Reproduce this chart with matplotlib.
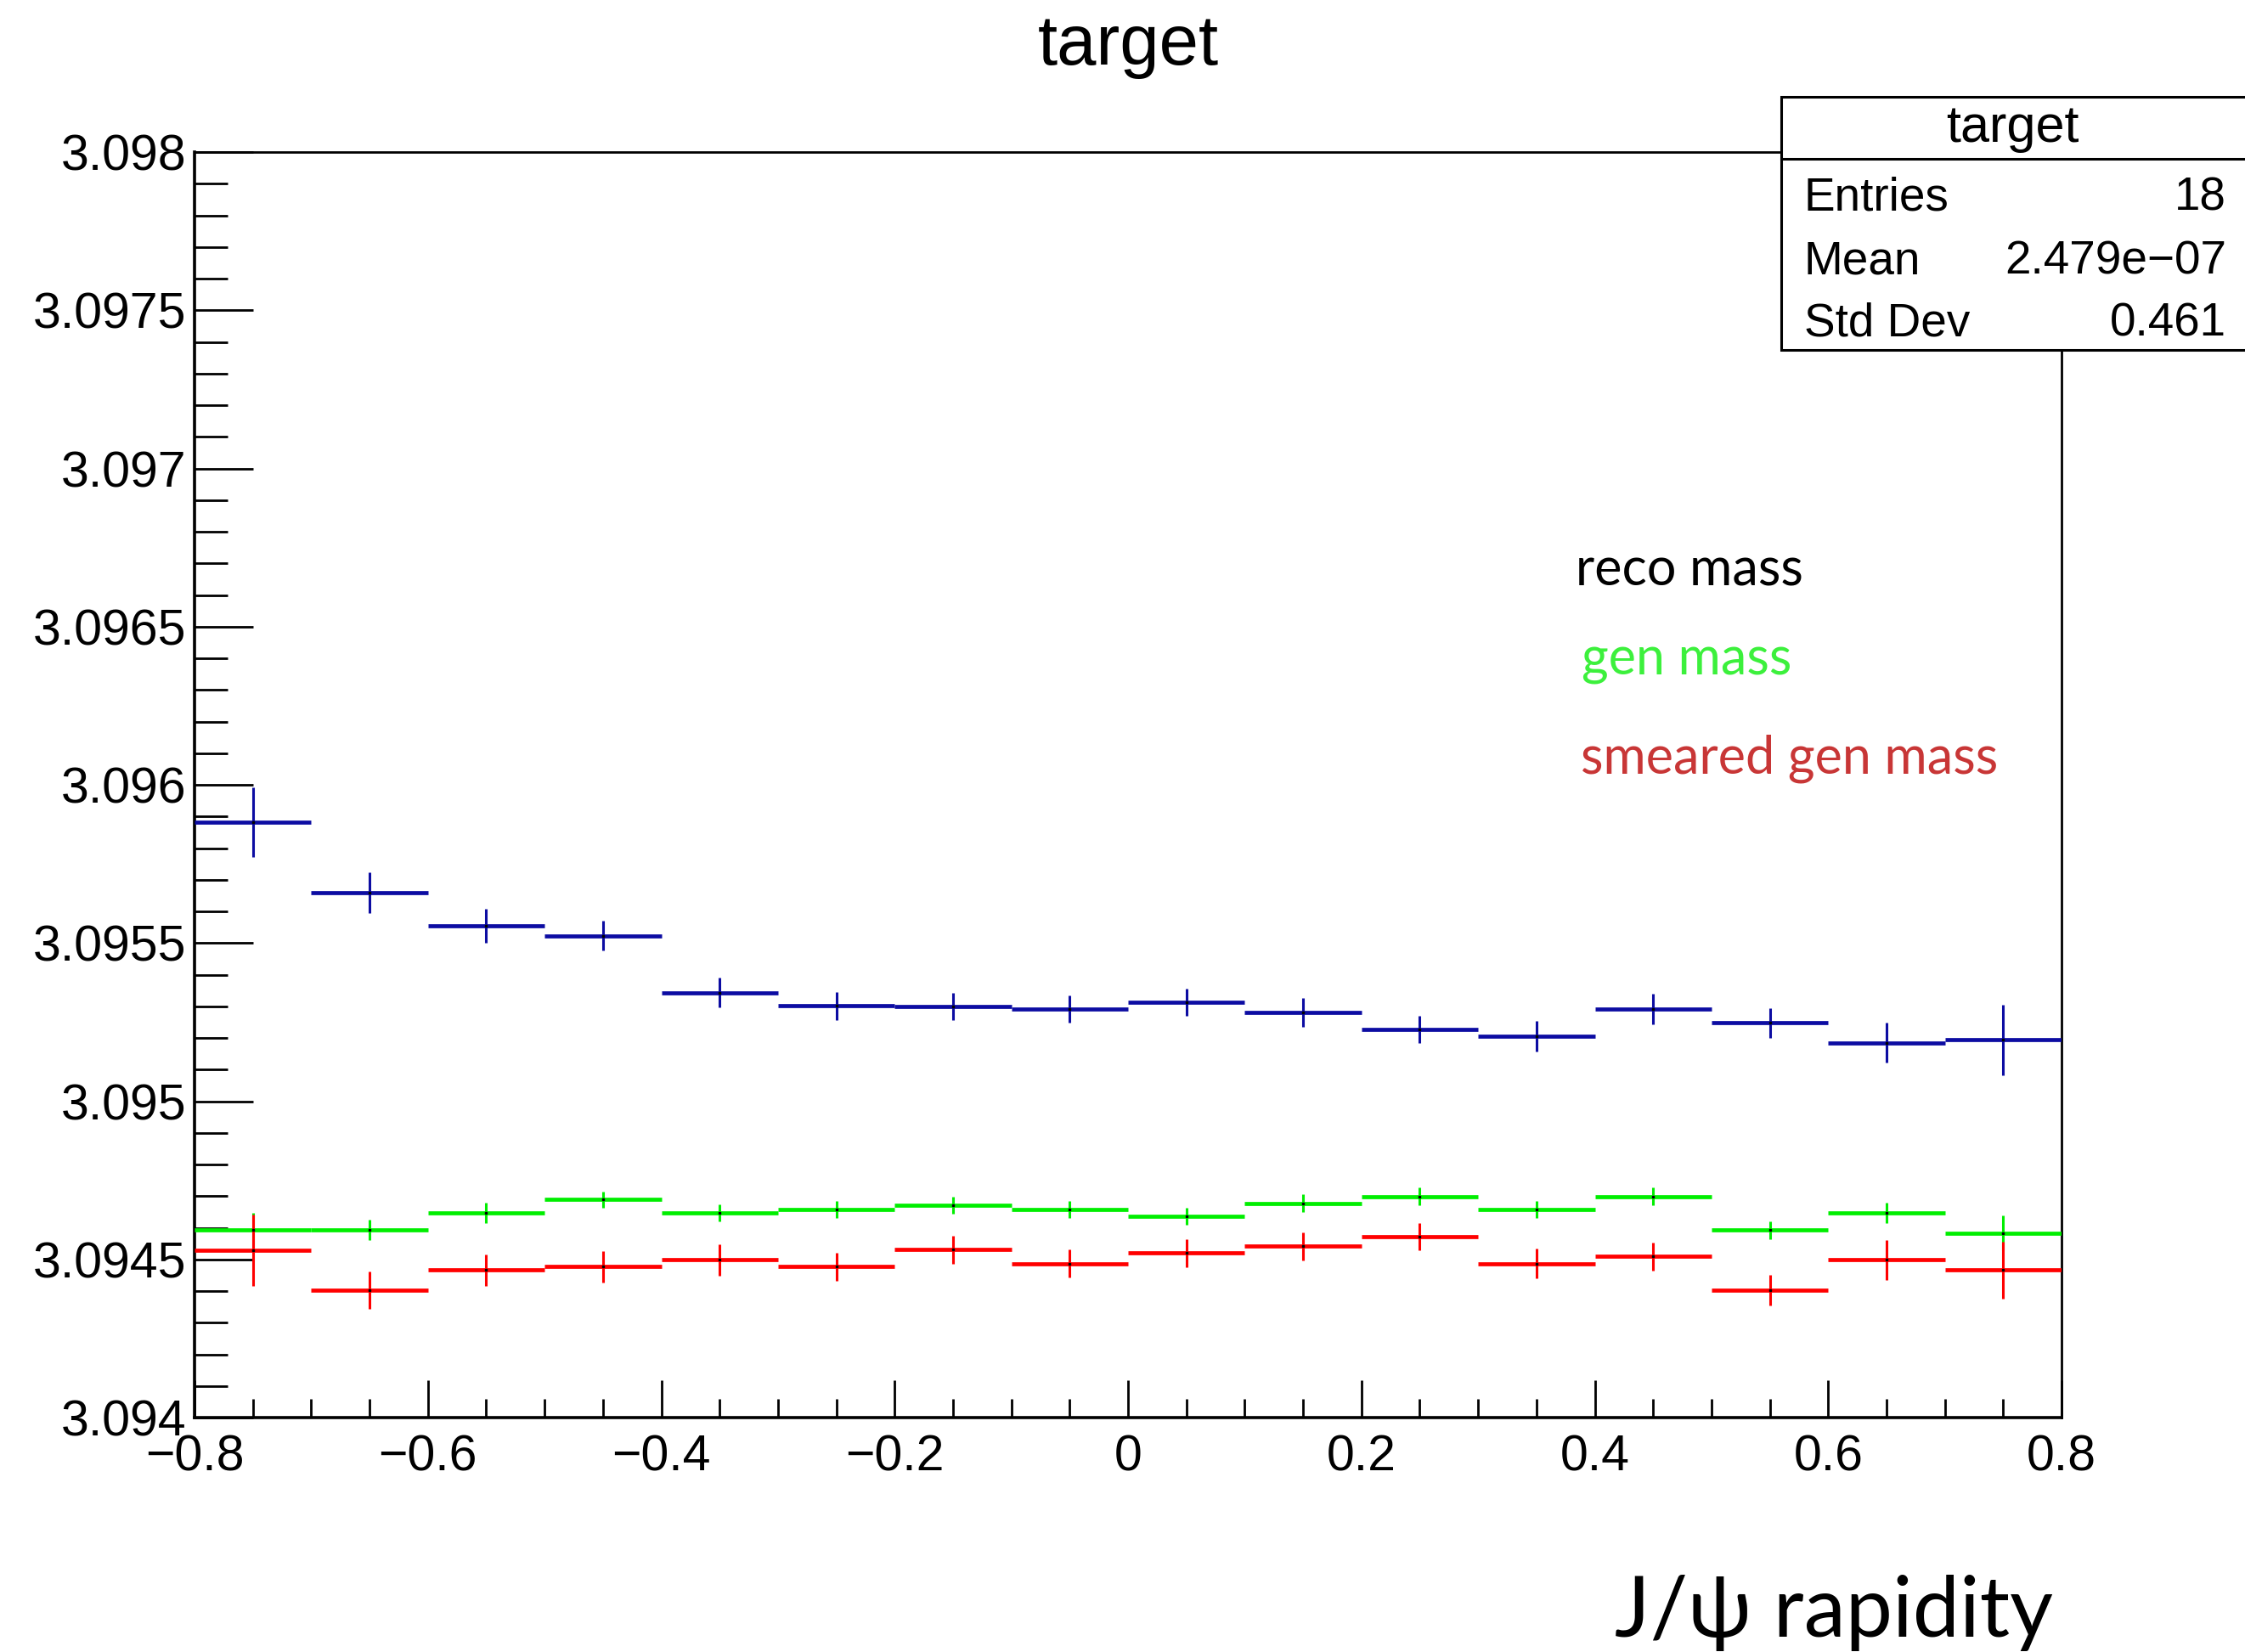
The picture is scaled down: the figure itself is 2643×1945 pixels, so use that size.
import matplotlib
matplotlib.use("Agg")
import matplotlib.pyplot as plt
from matplotlib.patches import Rectangle
from matplotlib.lines import Line2D
from matplotlib.ticker import MultipleLocator, FuncFormatter
import numpy as np

# Rapidity bins (width 0.1) from -0.8 to 0.8
bin_centers = [-0.75, -0.65, -0.55, -0.45, -0.35, -0.25, -0.15, -0.05,
               0.05, 0.15, 0.25, 0.35, 0.45, 0.55, 0.65, 0.75]
bin_half_width = 0.05

reco_mass = [3.095882, 3.095659, 3.095554, 3.095523, 3.095343, 3.095301,
             3.095300, 3.095291, 3.095312, 3.095280, 3.095227, 3.095206,
             3.095291, 3.095247, 3.095185, 3.095194]
reco_err = [1.10e-4, 6.4e-5, 5.3e-5, 4.75e-5, 4.75e-5, 4.4e-5,
            4.25e-5, 4.4e-5, 4.35e-5, 4.5e-5, 4.4e-5, 4.8e-5,
            4.9e-5, 4.8e-5, 6.35e-5, 1.12e-4]

gen_mass = [3.094593, 3.094593, 3.094647, 3.094689, 3.094647, 3.094657,
            3.094670, 3.094657, 3.094636, 3.094677, 3.094699, 3.094657,
            3.094699, 3.094593, 3.094647, 3.094583]
gen_err = [5.5e-5, 3.3e-5, 3.2e-5, 2.6e-5, 2.7e-5, 2.7e-5,
           2.7e-5, 2.7e-5, 2.7e-5, 2.8e-5, 2.8e-5, 2.7e-5,
           2.8e-5, 2.8e-5, 3.2e-5, 5.5e-5]

smeared_mass = [3.094529, 3.094402, 3.094466, 3.094477, 3.094498, 3.094477,
                3.094531, 3.094487, 3.094520, 3.094541, 3.094572, 3.094487,
                3.094509, 3.094402, 3.094498, 3.094466]
smeared_err = [1.12e-4, 5.9e-5, 4.9e-5, 4.9e-5, 4.9e-5, 4.4e-5,
               4.4e-5, 4.4e-5, 4.5e-5, 4.35e-5, 4.35e-5, 4.8e-5,
               4.35e-5, 4.8e-5, 6.4e-5, 9.0e-5]

stats_rows = [("Entries", "18"), ("Mean", "2.479e\u221207"), ("Std Dev", "0.461")]
legend_labels = ["reco mass", "gen mass", "smeared gen mass"]
title_text = "target"
x_label = "J/\u03c8 rapidity"

W, H = 2643, 1945
DPI = 100
fig = plt.figure(figsize=(W / DPI, H / DPI), dpi=DPI)
fig.patch.set_facecolor("white")

ROOT_FONT = ["Liberation Sans", "DejaVu Sans"]
LABEL_FONT = ["Lato", "Noto Sans", "DejaVu Sans"]


def fx(px):
    return px / W


def fy(py):
    return 1 - py / H


left, right, top, bottom = 229, 2427, 179, 1669
ax = fig.add_axes([fx(left), fy(bottom), fx(right - left), (bottom - top) / H])

series = [
    (reco_mass, reco_err, "#0c0ca2"),
    (gen_mass, gen_err, "#00ee00"),
    (smeared_mass, smeared_err, "#ff0000"),
]
for vals, errs, col in series:
    ax.errorbar(bin_centers, vals, xerr=bin_half_width, fmt="none",
                ecolor=col, elinewidth=3.4, capsize=0, zorder=3)
    ax.errorbar(bin_centers, vals, yerr=errs, fmt="none",
                ecolor=col, elinewidth=2.2, capsize=0, zorder=3)
    ax.plot(bin_centers, vals, ls="none", marker="s", ms=1.6,
            color="black", zorder=4)

ax.set_xlim(-0.8, 0.8)
ax.set_ylim(3.094, 3.098)

ax.xaxis.set_major_locator(MultipleLocator(0.2))
ax.xaxis.set_minor_locator(MultipleLocator(0.05))
ax.yaxis.set_major_locator(MultipleLocator(0.0005))
ax.yaxis.set_minor_locator(MultipleLocator(0.0001))


def xfmt(v, pos):
    if abs(v) < 1e-9:
        return "0"
    return ("%g" % round(v, 3)).replace("-", "\u2212")


def yfmt(v, pos):
    s = ("%.4f" % v).rstrip("0").rstrip(".")
    return s


ax.xaxis.set_major_formatter(FuncFormatter(xfmt))
ax.yaxis.set_major_formatter(FuncFormatter(yfmt))

for sp in ax.spines.values():
    sp.set_linewidth(2.0)
ax.spines["left"].set_linewidth(2.6)
ax.spines["bottom"].set_linewidth(2.6)

ax.tick_params(axis="both", which="both", direction="in", top=False, right=False,
               width=2.0, color="black")
ax.tick_params(axis="y", which="major", length=50, pad=7, labelsize=42.5)
ax.tick_params(axis="y", which="minor", length=28)
ax.tick_params(axis="x", which="major", length=32, pad=14, labelsize=42.5)
ax.tick_params(axis="x", which="minor", length=16)
for lab in ax.get_xticklabels() + ax.get_yticklabels():
    lab.set_family(ROOT_FONT)

# Title
fig.text(fx(1328), fy(54), title_text, ha="center", va="center",
         fontsize=60, family=ROOT_FONT)

# Statistics box
box_l, box_t, box_b, box_div = 2097, 114, 412, 187
fig.add_artist(Rectangle((fx(box_l), fy(box_b)), fx(W + 20 - box_l), (box_b - box_t) / H,
                         transform=fig.transFigure, facecolor="white",
                         edgecolor="black", linewidth=2.2, zorder=10, clip_on=False))
fig.add_artist(Line2D([fx(box_l), fx(W + 20)], [fy(box_div), fy(box_div)],
                      transform=fig.transFigure, color="black", linewidth=2.2, zorder=11))
fig.text(fx(2369), fy(167), title_text, ha="center", va="baseline",
         fontsize=44, family=ROOT_FONT, zorder=12)
row_baselines = [248, 323, 395]
for (name, val), yb in zip(stats_rows, row_baselines):
    fig.text(fx(2124), fy(yb), name, ha="left", va="baseline",
             fontsize=39.5, family=ROOT_FONT, zorder=12)
    fig.text(fx(2621), fy(yb), val, ha="right", va="baseline",
             fontsize=39.5, family=ROOT_FONT, zorder=12)

# Legend-style labels
legend_colors = ["black", "#3cf03c", "#c83636"]
legend_pos = [(1855, 690), (1862, 795), (1861, 910)]
for lab, col, (px, py) in zip(legend_labels, legend_colors, legend_pos):
    fig.text(fx(px), fy(py), lab, ha="left", va="baseline", color=col,
             fontsize=44, family=LABEL_FONT)

# Axis title
fig.text(fx(1901), fy(1927), x_label, ha="left", va="baseline",
         fontsize=71, family=LABEL_FONT)

fig.savefig("out.png", dpi=DPI, facecolor="white")
